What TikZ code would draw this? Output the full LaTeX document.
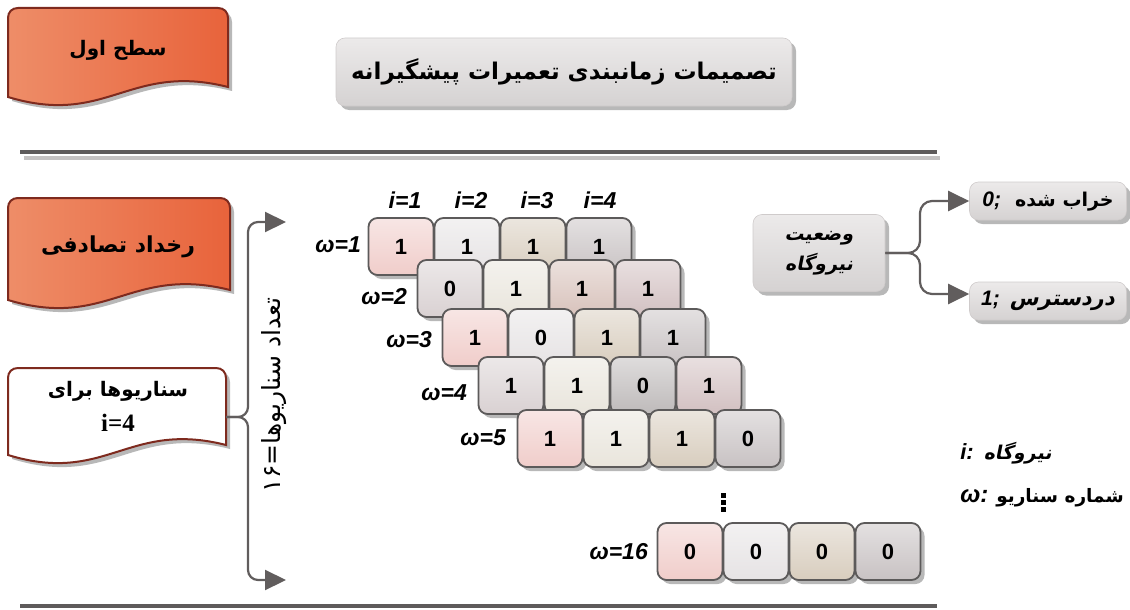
\documentclass[tikz,border=0pt]{standalone}
\usepackage{fontspec}
\setmainfont{Liberation Sans}
\newfontfamily\fa[Script=Arabic]{DejaVu Sans}
\newfontfamily\fasl[Script=Arabic,FakeSlant=0.2]{DejaVu Sans}
\newfontfamily\tms{Liberation Serif}
\TeXXeTstate=1
\usetikzlibrary{arrows.meta,shadows}
\definecolor{pinkc}{HTML}{F0CDCA}
\definecolor{lgray}{HTML}{E6E3E4}
\definecolor{beige}{HTML}{D8CDBE}
\definecolor{grayf}{HTML}{C8C2C3}
\definecolor{rtwoa}{HTML}{D9D1D2}
\definecolor{offw}{HTML}{E9E5DC}
\definecolor{pbrown}{HTML}{D8C2BB}
\definecolor{pgray}{HTML}{D2C0C1}
\definecolor{rfourc}{HTML}{BEBABA}
\definecolor{cellb}{HTML}{5C5A5A}
\definecolor{connc}{HTML}{615D5D}
\definecolor{orone}{HTML}{EE8D68}
\definecolor{ortwo}{HTML}{E8633B}
\definecolor{brownb}{HTML}{7E2A1E}
\definecolor{gbtop}{HTML}{ECEAEA}
\definecolor{gbbot}{HTML}{D5D2D2}
\definecolor{gbedge}{HTML}{CFCBCB}
\definecolor{lined}{HTML}{5E5B5B}
\definecolor{linel}{HTML}{C4C2C2}
\newcommand\AR[1]{\beginR #1\endR}
\newcommand\docpath[2]{(0,#2+10) -- (0,10) .. controls (0,4) and (4,0) .. (10,0) -- (#1-10,0) .. controls (#1-4,0) and (#1,4) .. (#1,10) -- (#1,#2) .. controls (0.55*#1,#2-25) and (0.45*#1,#2+40) .. (0,#2+10) -- cycle}
\newcommand\mkcell[5]{\node[cell, top color=#5!50!white, bottom color=#5] (#1) at (#2,#3) {#4};}
\begin{document}
\begin{tikzpicture}[x=1pt,y=-1pt,
  conn/.style={draw=connc, line width=2.2pt},
  arr/.style={conn, -{Triangle[length=21pt,width=20pt]}},
  cell/.style={draw=cellb, line width=1.8pt, rounded corners=9pt, minimum width=65pt, minimum height=57pt, inner sep=0pt, font=\bfseries\fontsize{22}{24}\selectfont, drop shadow={shadow xshift=4pt,shadow yshift=-4pt,fill=black!28,opacity=1}},
  lab/.style={font=\bfseries\itshape\fontsize{23}{24}\selectfont, inner sep=1pt},
  graybox/.style={rounded corners=9pt, top color=gbtop, bottom color=gbbot, draw=gbedge, line width=0.6pt, drop shadow={shadow xshift=4pt,shadow yshift=-4pt,fill=black!28,opacity=1}},
  doctext/.style={font=\fa\bfseries\fontsize{20}{35}\selectfont, align=center}
]
\useasboundingbox (0,0) rectangle (1130,610);
% separator lines
\draw[line width=3.5pt, linel] (24,158) -- (940,158);
\draw[line width=3.5pt, lined] (20,152) -- (937,152);
\draw[line width=3.5pt, lined] (20,606) -- (937,606);
% document shapes
\begin{scope}[shift={(8,8)}]
\fill[black!28, xshift=4pt, yshift=-4pt] \docpath{220}{79};
\path[left color=orone, right color=ortwo, draw=brownb, line width=2pt] \docpath{220}{79};
\end{scope}
\begin{scope}[shift={(8,198)}]
\fill[black!28, xshift=4pt, yshift=-4pt] \docpath{222}{92};
\path[left color=orone, right color=ortwo, draw=brownb, line width=2pt] \docpath{222}{92};
\end{scope}
\begin{scope}[shift={(8,368)}]
\fill[black!28, xshift=4pt, yshift=-4pt] \docpath{218}{77};
\path[fill=white, draw=brownb, line width=2pt] \docpath{218}{77};
\end{scope}
\node[doctext] (lvl1) at (118,50) {\AR{سطح اول}};
\node[doctext, font=\fa\bfseries\fontsize{22}{24}\selectfont] (lvl2) at (118,247) {\AR{رخداد تصادفی}};
\node[doctext] (scn) at (118,406) {\AR{سناریوها برای}\\{\tms\bfseries\fontsize{25}{26}\selectfont i=4}};
\coordinate (s3r) at (226,417);
% title
\node[graybox, minimum width=456pt, minimum height=68pt, font=\fa\bfseries\fontsize{23}{24}\selectfont] (title) at (564,72) {\AR{تصمیمات زمانبندی تعمیرات پیشگیرانه}};
% brace connector
\coordinate (btop) at (286,222);
\coordinate (bbot) at (286,580);
\draw[arr, rounded corners=10pt] (s3r) -- (248,417) |- (btop);
\draw[arr, rounded corners=10pt] (s3r) -- (248,417) |- (bbot);
\node[rotate=90, font=\fa\fontsize{25}{26}\selectfont] (cnt) at (274,395) {\AR{تعداد سناریوها=\beginL ۱۶\endL}};
% cells
\mkcell{a1}{401}{246.5}{1}{pinkc}
\mkcell{a2}{467}{246.5}{1}{lgray}
\mkcell{a3}{533}{246.5}{1}{beige}
\mkcell{a4}{599}{246.5}{1}{grayf}
\mkcell{b1c}{450}{288.5}{0}{rtwoa}
\mkcell{b2c}{516}{288.5}{1}{offw}
\mkcell{b3c}{582}{288.5}{1}{pbrown}
\mkcell{b4c}{648}{288.5}{1}{pgray}
\mkcell{c1}{475}{337.5}{1}{pinkc}
\mkcell{c2}{541}{337.5}{0}{lgray}
\mkcell{c3}{607}{337.5}{1}{beige}
\mkcell{c4}{673}{337.5}{1}{grayf}
\mkcell{d1}{511}{385.5}{1}{rtwoa}
\mkcell{d2}{577}{385.5}{1}{offw}
\mkcell{d3}{643}{385.5}{0}{rfourc}
\mkcell{d4}{709}{385.5}{1}{pgray}
\mkcell{e1}{550}{438.5}{1}{pinkc}
\mkcell{e2}{616}{438.5}{1}{offw}
\mkcell{e3}{682}{438.5}{1}{beige}
\mkcell{e4}{748}{438.5}{0}{grayf}
\mkcell{p1}{690}{551.5}{0}{pinkc}
\mkcell{p2}{756}{551.5}{0}{lgray}
\mkcell{p3}{822}{551.5}{0}{beige}
\mkcell{p4}{888}{551.5}{0}{grayf}
% labels
\node[lab] (i1) at (405,200) {i=1};
\node[lab] (i2) at (471,200) {i=2};
\node[lab] (i3) at (537,200) {i=3};
\node[lab] (i4) at (600,200) {i=4};
\node[lab, anchor=east] (w1) at (362,245) {ω=1};
\node[lab, anchor=east] (w2) at (408,297) {ω=2};
\node[lab, anchor=east] (w3) at (433,340) {ω=3};
\node[lab, anchor=east] (w4) at (468,393) {ω=4};
\node[lab, anchor=east] (w5) at (507,438) {ω=5};
\node[lab, anchor=east] (w16) at (649,552) {ω=16};
\foreach \yy in {493,500,507} \fill (721,\yy) rectangle (725.5,\yy+4.5);
% right side
\node[graybox, minimum width=132pt, minimum height=77pt, font=\fasl\bfseries\fontsize{19}{30}\selectfont, align=center] (st) at (819,253) {\AR{وضعیت}\\\AR{نیروگاه}};
\node[graybox, minimum width=157pt, minimum height=38pt, font=\fontsize{19}{20}\selectfont] (bz) at (1048,201) {{\bfseries\itshape\fontsize{21}{20}\selectfont 0;}\hspace{14pt}{\fa\bfseries\AR{خراب شده}}};
\node[graybox, minimum width=157pt, minimum height=38pt, font=\fontsize{21}{20}\selectfont] (bo) at (1048,301) {{\bfseries\itshape\fontsize{21}{20}\selectfont 1;}\hspace{10pt}{\fasl\bfseries\AR{دردسترس}}};
\draw[arr, rounded corners=12pt] (st.east) -- (920,253) |- (bz.west);
\draw[arr, rounded corners=12pt] (st.east) -- (920,253) |- ([yshift=7pt]bo.west);
% legend
\node[font=\fontsize{19}{20}\selectfont] (lg1) at (1006,453) {{\bfseries\itshape\fontsize{22}{20}\selectfont i:}\hspace{10pt}{\fasl\bfseries\AR{نیروگاه}}};
\node[font=\fontsize{18.5}{20}\selectfont] (lg2) at (1042,498) {{\bfseries\itshape\fontsize{24}{20}\selectfont ω:}\hspace{8pt}{\fa\bfseries\AR{شماره سناریو}}};
\end{tikzpicture}
\end{document}
